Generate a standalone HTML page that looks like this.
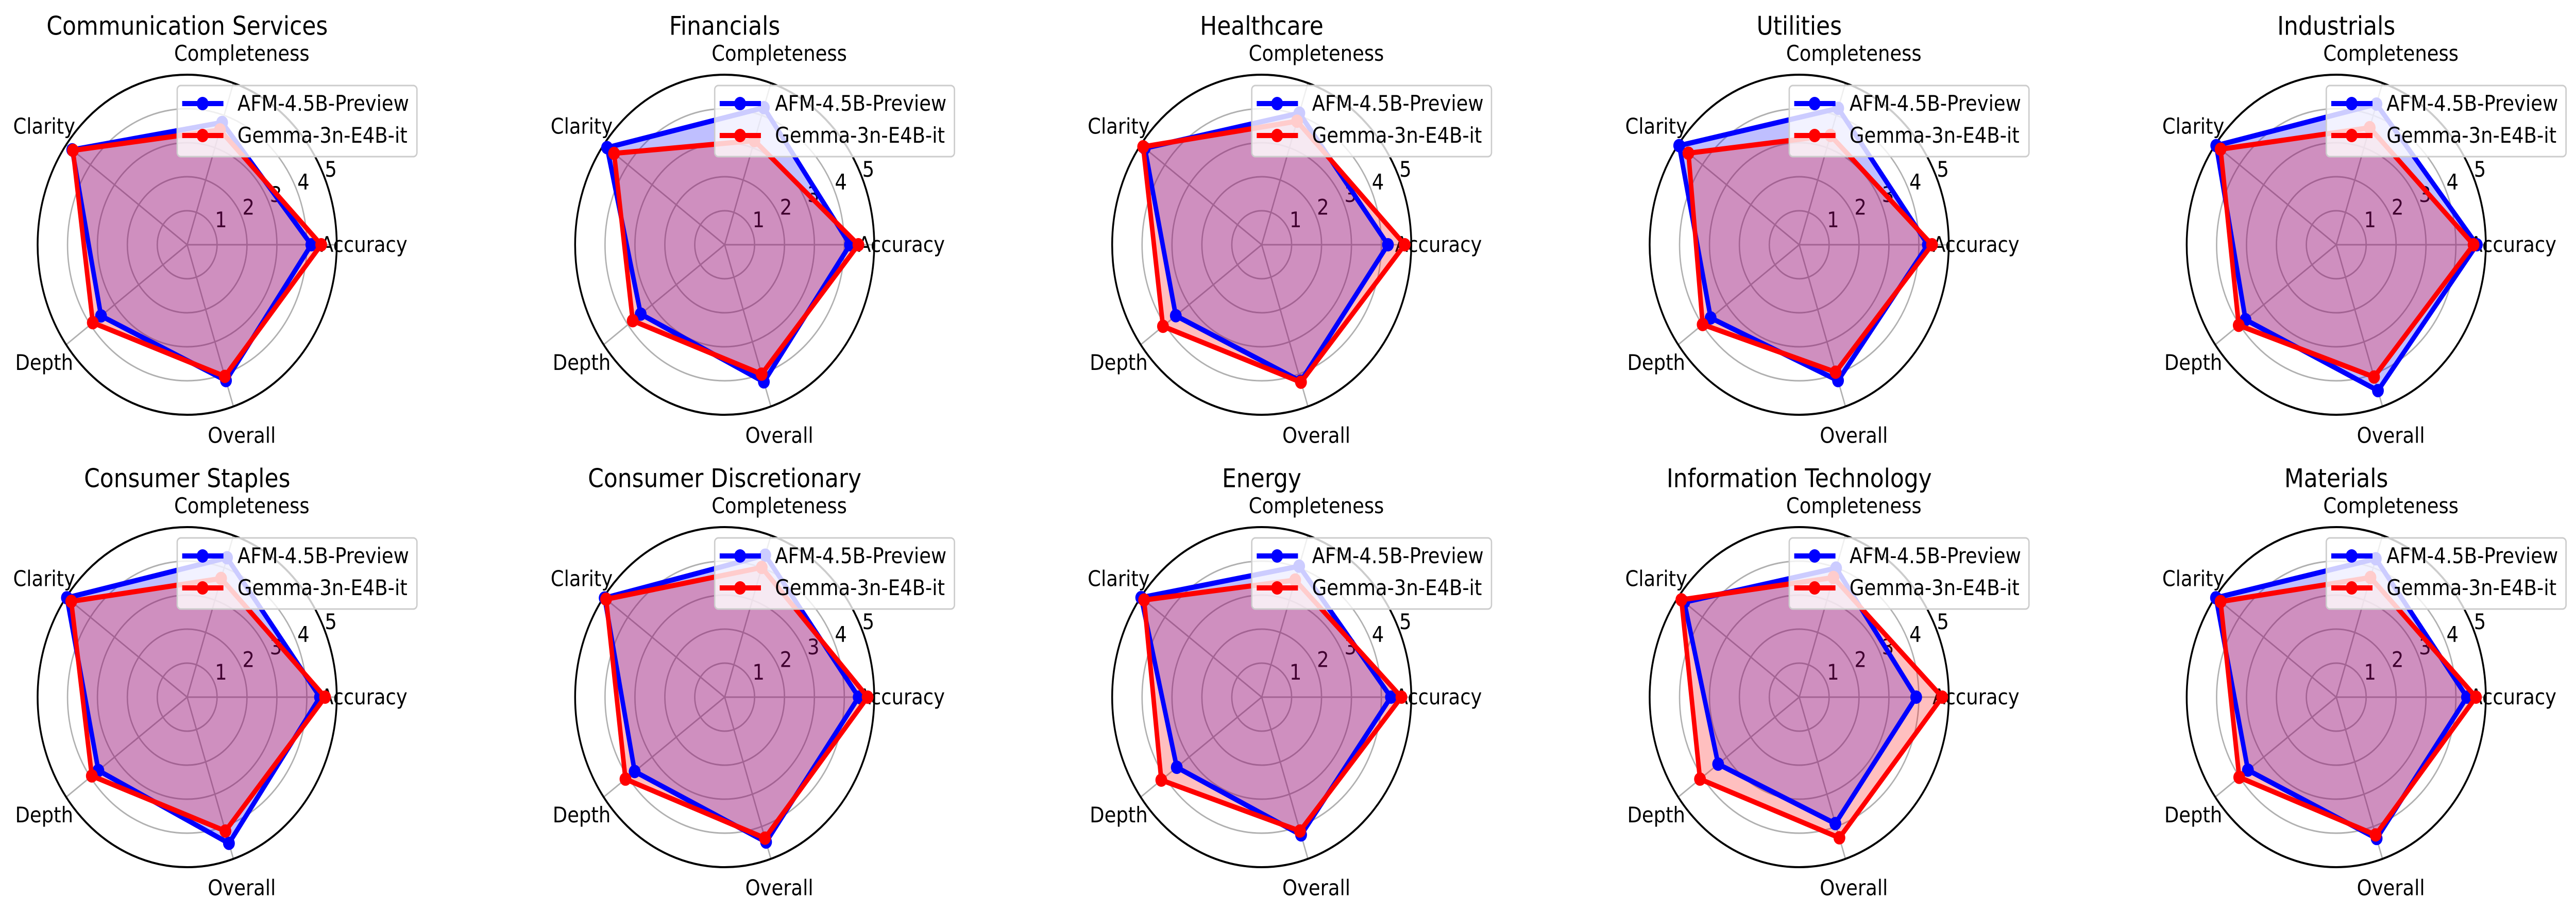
<!DOCTYPE html>
<html><head><meta charset="utf-8">
<style>
html,body{margin:0;padding:0;background:#fff;width:100%;height:100%;overflow:hidden;}
svg{display:block;width:100vw;height:100vh;font-family:"DejaVu Sans","Liberation Sans",sans-serif;}
</style></head>
<body>
<svg id="fig" viewBox="0 0 5684 1770" preserveAspectRatio="none" xmlns="http://www.w3.org/2000/svg"></svg>
<script>
const sectors = ["Communication Services","Financials","Healthcare","Utilities","Industrials","Consumer Staples","Consumer Discretionary","Energy","Information Technology","Materials"];
const metrics = ["Accuracy","Completeness","Clarity","Depth","Overall"];
const seriesNames = ["AFM-4.5B-Preview","Gemma-3n-E4B-it"];
const afmValues = [
  [4.15,3.78,4.75,3.56,4.20],
  [4.19,4.24,4.86,3.47,4.24],
  [4.22,4.07,4.83,3.55,4.22],
  [4.30,4.22,4.96,3.66,4.20],
  [4.70,4.35,4.96,3.75,4.51],
  [4.44,4.31,4.97,3.67,4.52],
  [4.48,4.39,4.96,3.72,4.48],
  [4.32,4.05,4.98,3.51,4.26],
  [3.91,3.99,4.75,3.35,3.91],
  [4.37,4.28,4.97,3.65,4.37]
];
const gemmaValues = [
  [4.48,3.55,4.72,3.90,4.07],
  [4.47,3.22,4.57,3.80,4.00],
  [4.78,3.82,4.90,4.08,4.25],
  [4.44,3.38,4.58,3.99,3.94],
  [4.59,3.62,4.78,4.03,4.09],
  [4.61,3.67,4.79,3.94,4.14],
  [4.78,4.01,4.90,4.10,4.36],
  [4.67,3.62,4.86,4.15,4.14],
  [4.78,3.70,4.87,4.10,4.35],
  [4.67,3.70,4.78,4.01,4.26]
];
const radialTicks = [1,2,3,4,5];
const rMax = 5;

const NS = "http://www.w3.org/2000/svg";
const svg = document.getElementById("fig");
const colX = [413,1599,2784,3970,5155];
const rowY = [475,1353];
const R = 330;
function mk(tag, attrs, parent){
  const e = document.createElementNS(NS, tag);
  for (const k in attrs) e.setAttribute(k, attrs[k]);
  (parent||svg).appendChild(e);
  return e;
}
function rScale(v){ return v / rMax * R; }
function angle(i){ return i * 2 * Math.PI / metrics.length; }
function pt(cx, cy, i, v){
  const a = angle(i), r = rScale(v);
  return [cx + r*Math.cos(a), cy - r*Math.sin(a)];
}
const colors = ["#0000ff","#ff0000"];
const keys = ["afm","gemma"];

sectors.forEach((name, s) => {
  const cx = colX[s % 5], cy = rowY[Math.floor(s/5)];
  const g = mk("g", {});
  
  
  radialTicks.slice(0,-1).forEach(t => {
    const c = mk("circle", {cx:cx, cy:cy, r:rScale(t), fill:"none", stroke:"#b0b0b0", "stroke-width":3}, g);
    
    
  });
  metrics.forEach((m,i) => {
    const p = pt(cx, cy, i, rMax);
    const l = mk("line", {x1:cx, y1:cy, x2:p[0], y2:p[1], stroke:"#b0b0b0", "stroke-width":3}, g);
    
    
  });
  const oc = mk("circle", {cx:cx, cy:cy, r:R, fill:"none", stroke:"#000", "stroke-width":4}, g);
  
  
  radialTicks.forEach(t => {
    const tx = mk("text", {x:cx + 14 + 60.6*t, y:cy - 23 - 24.6*t, "font-size":42, "text-anchor":"middle", "dominant-baseline":"central", fill:"#000"}, g);
    tx.textContent = t;
    
    
  });
  metrics.forEach((m,i) => {
    const a = angle(i);
    const tx = mk("text", {x:cx + 390*Math.cos(a), y:cy - 390*Math.sin(a), "font-size":42, "text-anchor":"middle", "dominant-baseline":"central", fill:"#000"}, g);
    tx.textContent = m;
    
    
  });
  const seriesVals = [afmValues[s], gemmaValues[s]];
  const seriesPts = seriesVals.map(vals => vals.map((v,i) => pt(cx, cy, i, v)));
  // fills first
  seriesPts.forEach((pts,k) => {
    const d = pts.map(p => p[0].toFixed(1)+","+p[1].toFixed(1)).join(" ");
    const poly = mk("polygon", {points:d, fill:colors[k], "fill-opacity":0.25, stroke:"none"}, g);
    
    
  });
  // lines & markers
  seriesPts.forEach((pts,k) => {
    const d = pts.map(p => p[0].toFixed(1)+","+p[1].toFixed(1)).join(" ");
    const line = mk("polygon", {points:d, fill:"none", stroke:colors[k], "stroke-width":10, "stroke-linejoin":"miter"}, g);
    
    
    pts.forEach((p,i) => {
      const c = mk("circle", {cx:p[0], cy:p[1], r:13, fill:colors[k]}, g);
      
      
    });
  });
  const tt = mk("text", {x:cx, y:cy-424, "font-size":50, "text-anchor":"middle", "dominant-baseline":"central", fill:"#000"}, g);
  tt.textContent = name;
  
  
  const lg = mk("g", {}, g);
  
  
  const box = mk("rect", {x:cx-22, y:cy-309, width:529, height:138, rx:8, fill:"#fff", "fill-opacity":0.8, stroke:"#cccccc", "stroke-width":3}, lg);
  
  
  seriesNames.forEach((sn,k) => {
    const y = cy - 274 + k*62;
    const ln = mk("line", {x1:cx-11, y1:y, x2:cx+80, y2:y, stroke:colors[k], "stroke-width":10}, lg);
    
    
    const mc = mk("circle", {cx:cx+34, cy:y, r:13, fill:colors[k]}, lg);
    
    
    const tx = mk("text", {x:cx+111, y:y, "font-size":42, "dominant-baseline":"central", fill:"#000"}, lg);
    tx.textContent = sn;
    
    
  });
});
</script>
</body></html>
